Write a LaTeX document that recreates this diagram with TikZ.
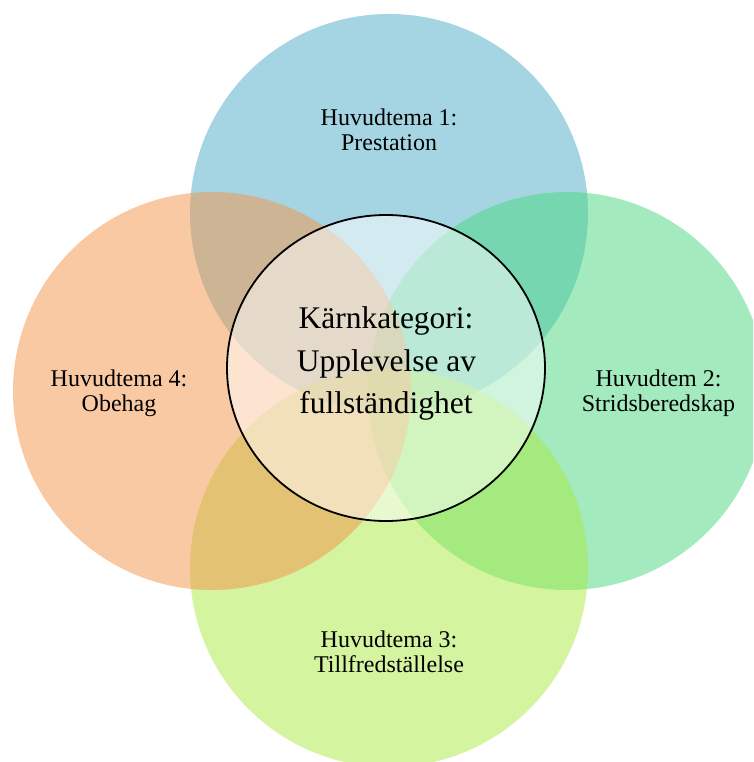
\documentclass[tikz,border=0pt]{standalone}
\usepackage{fontspec}
\setmainfont{Liberation Serif}
\usetikzlibrary{shapes.geometric}
\definecolor{cblue}{RGB}{75,171,197}
\definecolor{cgreen}{RGB}{71,215,125}
\definecolor{clime}{RGB}{169,233,65}
\definecolor{corange}{RGB}{243,147,71}
\tikzset{
  venn/.style={circle, minimum size=398pt, inner sep=0pt, draw=none, fill opacity=0.5},
  small/.style={anchor=base, inner sep=0pt, font=\fontsize{24}{25}\selectfont},
  big/.style={anchor=base, inner sep=0pt, font=\fontsize{31.5}{43}\selectfont},
}
\begin{document}
\begin{tikzpicture}[x=1pt,y=-1pt]
\useasboundingbox (0,0) rectangle (753,762);
\begin{scope}
\clip (0,0) rectangle (753,762);
\node[venn, fill=cblue] (c1) at (389,213) {};
\node[venn, fill=cgreen] (c2) at (567,391) {};
\node[venn, fill=clime] (c3) at (389,568) {};
\node[venn, fill=corange] (c4) at (212,391) {};
\end{scope}
\node[ellipse, minimum width=318pt, minimum height=306pt, inner sep=0pt,
      draw=black, line width=1.8pt, fill=white, fill opacity=0.5] (core) at (386,368) {};
\node[small] (t1a) at (389,126) {Huvudtema 1:};
\node[small] (t1b) at (389,151) {Prestation};
\node[small] (t2a) at (658.5,386) {Huvudtem 2:};
\node[small] (t2b) at (658.5,411) {Stridsberedskap};
\node[small] (t3a) at (389,647) {Huvudtema 3:};
\node[small] (t3b) at (389,672) {Tillfredställelse};
\node[small] (t4a) at (119,386) {Huvudtema 4:};
\node[small] (t4b) at (119,411) {Obehag};
\node[big] (ka) at (386,328.5) {Kärnkategori:};
\node[big] (kb) at (386.5,371) {Upplevelse av};
\node[big] (kc) at (386,413) {fullständighet};
\end{tikzpicture}
\end{document}
